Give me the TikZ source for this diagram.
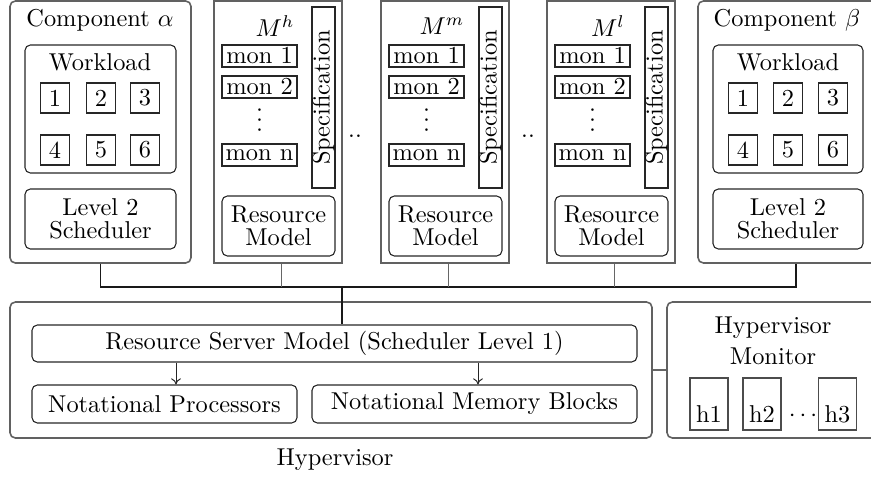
\documentclass[tikz,border=0pt]{standalone}
\usetikzlibrary{arrows.meta}
\def\pxu{0.41pt}
\tikzset{
  sq/.style={draw=black!85, line width=0.45pt, inner sep=0pt, align=center},
  rb/.style={sq, rounded corners=2.2pt},
  outer/.style={draw=black!62, line width=0.65pt},
  sz/.style 2 args={minimum width=#1*\pxu, minimum height=#2*\pxu},
  lbl/.style={inner sep=0pt, align=center},
  bus/.style={line width=0.75pt, draw=black!90},
  stub/.style={line width=0.6pt, draw=black!60},
  arr/.style={-{To[length=2.5pt,width=4pt]}, line width=0.4pt, draw=black!85},
  hbox/.style={sq, draw=black!70, sz={38}{52}, text height=18.4pt, text depth=2.9pt}
}
\newcommand\vdotsrot{\kern0pt.\kern1.32pt.\kern1.32pt.}
\begin{document}
\begin{tikzpicture}[x=\pxu, y=-\pxu]
\useasboundingbox (0,0) rectangle (871,478);
\clip (0,0) rectangle (871,478);

% ---------- Component alpha ----------
\node[rb, outer, sz={181}{262}] (compA) at (100.5,132) {};
\node[lbl] (compAt) at (100,20) {Component $\alpha$};
\node[rb, sz={151}{128}] (wlA) at (100.5,109) {};
\node[lbl] (wlAt) at (100,62) {Workload};
\node[sq, sz={29}{30}] (a1) at (55,98) {1};
\node[sq, sz={29}{30}] (a2) at (101,98) {2};
\node[sq, sz={29}{30}] (a3) at (145,98) {3};
\node[sq, sz={29}{30}] (a4) at (55,150) {4};
\node[sq, sz={29}{30}] (a5) at (101,150) {5};
\node[sq, sz={29}{30}] (a6) at (145,150) {6};
\node[rb, sz={151}{60}] (schA) at (100.5,219) {Level 2\\[-2.4pt]Scheduler};

% ---------- Monitor groups ----------
\foreach \n/\o/\s in {h/0/h, m/167/m, l/333/l}{
  \node[sq, outer, sz={128}{262}] (M\n) at ({278+\o},132) {};
  \node[lbl] (M\n t) at ({275+\o},26) {$M^{\s}$};
  \node[sq, sz={75}{22}] (M\n 1) at ({259.5+\o},56) {mon 1};
  \node[sq, sz={75}{22}] (M\n 2) at ({259.5+\o},87) {mon 2};
  \node[lbl, rotate=90] (M\n d) at ({259.5+\o},120) {\vdotsrot};
  \node[sq, sz={75}{22}] (M\n n) at ({259.5+\o},155) {mon n};
  \node[sq, rotate=90, sz={181}{23}] (M\n s) at ({323.5+\o},97.5) {Specification};
  \node[rb, sz={113}{60}] (M\n r) at ({278.5+\o},226) {Resource\\[-2.4pt]Model};
}
\node[lbl] (dots1) at (355,136) {..};
\node[lbl] (dots2) at (528,136) {..};

% ---------- Component beta ----------
\node[rb, outer, sz={196}{262}] (compB) at (796,132) {};
\node[lbl] (compBt) at (787,20) {Component $\beta$};
\node[rb, sz={150}{128}] (wlB) at (788,109) {};
\node[lbl] (wlBt) at (788,62) {Workload};
\node[sq, sz={29}{30}] (b1) at (743,98) {1};
\node[sq, sz={29}{30}] (b2) at (788,98) {2};
\node[sq, sz={29}{30}] (b3) at (833,98) {3};
\node[sq, sz={29}{30}] (b4) at (743,150) {4};
\node[sq, sz={29}{30}] (b5) at (788,150) {5};
\node[sq, sz={29}{30}] (b6) at (833,150) {6};
\node[rb, sz={150}{60}] (schB) at (788,219) {Level 2\\[-2.4pt]Scheduler};

% ---------- Hypervisor ----------
\node[rb, outer, sz={642}{136}] (hyp) at (331,370) {};
\node[lbl] (hypt) at (335,460) {Hypervisor};
\node[rb, sz={605}{37}] (rsm) at (334.5,343.5) {Resource Server Model (Scheduler Level 1)};
\node[rb, sz={265}{38}] (np) at (164.5,404) {Notational Processors};
\node[rb, sz={325}{38}] (nmb) at (474.5,404) {Notational Memory Blocks};
\draw[arr] (rsm.south -| 176,0) -- (np.north -| 176,0);
\draw[arr] (rsm.south -| 478,0) -- (nmb.north -| 478,0);

% ---------- Hypervisor Monitor ----------
\node[rb, outer, sz={212}{136}] (hm) at (773,370) {};
\node[lbl, anchor=north] (hmt) at (773,316) {Hypervisor\\[1pt]Monitor};
\node[hbox] (h1) at (709,404) {h1};
\node[hbox] (h2) at (762,404) {h2};
\node[hbox] (h3) at (837.5,404) {h3};
\node[lbl] (hdots) at (803,416) {$\cdots$};
\draw[stub] (hyp.east) -- (hm.west);

% ---------- Bus ----------
\draw[bus] (compA.south) -- ++(0,23.5) -| (compB.south);
\draw[stub] ([xshift=1.4pt]Mh.south) -- ++(0,23.5);
\draw[stub] ([xshift=1.4pt]Mm.south) -- ++(0,23.5);
\draw[stub] ([xshift=1.4pt]Ml.south) -- ++(0,23.5);
\coordinate (busmid) at (342,286.5);
\draw[bus] (busmid) -- (busmid |- rsm.north);
\end{tikzpicture}
\end{document}
